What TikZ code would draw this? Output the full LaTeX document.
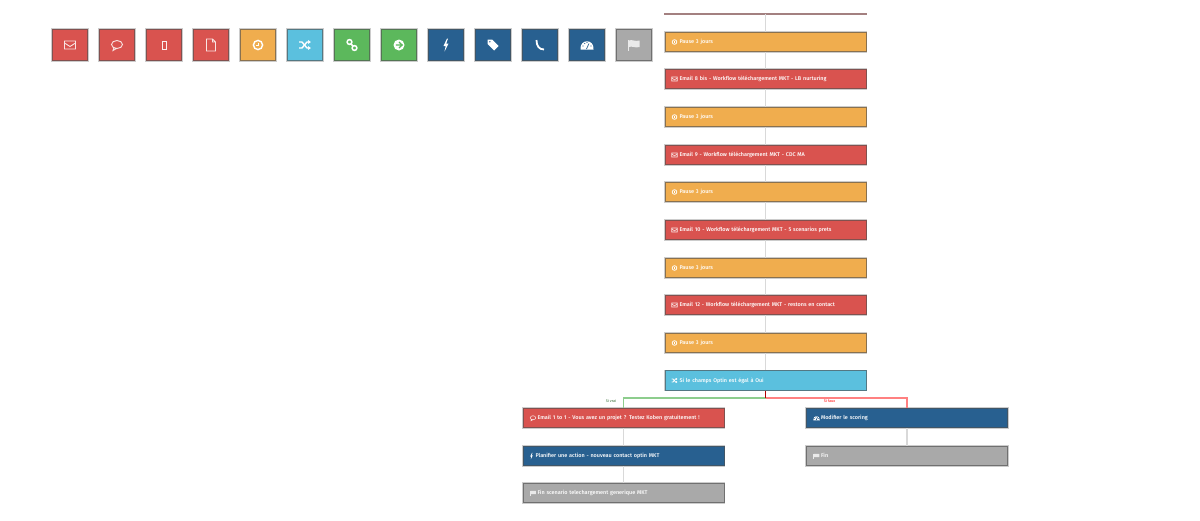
\documentclass[tikz,border=0pt]{standalone}
\usepackage{fontspec}
\setmainfont[BoldFont={Fira Sans Medium}]{Fira Sans}
\usetikzlibrary{arrows.meta}
\definecolor{rouge}{HTML}{D9534F}
\definecolor{orange}{HTML}{F0AD4E}
\definecolor{ciel}{HTML}{5BC0DE}
\definecolor{vert}{HTML}{5CB85C}
\definecolor{marine}{HTML}{286090}
\definecolor{gris}{HTML}{A9A9A9}
\tikzset{
    boite/.style={draw=#1!45!black!80!white,fill=#1,line width=1pt,
        preaction={draw=black!20,line width=2.2pt}},
    tuile/.style={boite=#1,minimum width=35pt,minimum height=31pt,inner sep=0pt},
    etape/.style={boite=#1,minimum width=201pt,minimum height=19.5pt,text width=201pt,
        inner xsep=0pt,inner ysep=0pt,align=left,text=white,text height=4.8pt,text depth=1.5pt,
        font=\bfseries\fontsize{5.45}{6}\selectfont,
        execute at begin node=\hspace*{14.5pt}},
    lien/.style={draw=black!15,line width=1.2pt},
    trait/.style={white,line width=.9pt},
    fort/.style={white,line width=1.4pt},
    bout/.tip={Latex[length=3pt,width=4.5pt]},
    petit/.style={scale=.5,trait/.style={white,line width=.55pt},fort/.style={white,line width=.8pt},
        bout/.tip={Latex[length=1.7pt,width=2.6pt]}},
    pics/mail/.style={code={\draw[trait,white!85!rouge] (-5.5,-4) rectangle (5.5,4) (-5.5,-2) -- (0,1.5) -- (5.5,-2);}},
    pics/bulle/.style={code={\draw[trait,white!85!rouge] (0,-.5) ellipse (5.5 and 4) (-3,2.5) -- (-4,5.5) -- (-.5,3.5);}},
    pics/mobile/.style={code={\draw[trait,white!90!rouge] (-2,-4) rectangle (2,4);}},
    pics/fichier/.style={code={\draw[trait,white!85!rouge] (-4.5,-6) -- (1.5,-6) -- (4.5,-3) -- (4.5,6) -- (-4.5,6) -- cycle (1.5,-6) -- (1.5,-3) -- (4.5,-3);}},
    pics/horloge/.style={code={\draw[fort] (0,0) circle (4.6);\draw[trait] (.5,-2.5) -- (.5,.5) -- (-2,.5);}},
    pics/croise/.style={code={\draw[fort,-bout] (-6,-3) -- (-3,-3) -- (2,3) -- (6,3);
        \draw[fort,-bout] (-6,3) -- (-3,3) -- (2,-3) -- (6,-3);}},
    pics/chaine/.style={code={\draw[trait,line width=1.5pt] (-2.5,-3) circle (2.4) (2.5,3) circle (2.4) (-1,-1.2) -- (1,1.2);}},
    pics/fleche/.style={code={\fill[white] (0,0) circle (5.5);
        \draw[vert,line width=1.2pt] (-3.2,0) -- (2.5,0) (0,-3) -- (3.2,0) -- (0,3);}},
    pics/eclair/.style={code={\fill[white] (1,-6.5) -- (-2.5,1) -- (-.3,1) -- (-1.5,6.5) -- (2.5,-1.5) -- (.3,-1.5) -- (2,-6.5) -- cycle;}},
    pics/etiquette/.style={code={\fill[white,even odd rule] (-5.5,-5.5) -- (-1,-5.5) -- (5.5,1) -- (1,5.5) -- (-5.5,-1) -- cycle (-3.2,-3.2) circle (1);}},
    pics/combine/.style={code={\draw[white,line width=1.8pt] (-3.5,-5) .. controls (-3.5,1) and (-1,4.5) .. (4,4.5);}},
    pics/jauge/.style={code={\fill[white] (-6.5,4.5) .. controls (-7.5,-6.5) and (7.5,-6.5) .. (6.5,4.5) -- cycle;
        \draw[marine,line width=.7pt] (-.5,4) -- (2,-1.5);
        \fill[marine] (-4,1) circle (.6) (4,1) circle (.6) (-2.2,-1.5) circle (.6) (0,-2.5) circle (.6);}},
    pics/drapeau/.style={code={\draw[white!75!gris,line width=.8pt] (-5.5,-5) -- (-5.5,6);
        \fill[white!75!gris] (-5,-4.5) .. controls (-2,-6) and (1,-3) .. (5.5,-4.5) -- (5.5,2) .. controls (1,3.5) and (-2,.5) .. (-5,2) -- cycle;}},
}
\begin{document}
\begin{tikzpicture}[x=1pt,y=-1pt]
    \useasboundingbox (0,0) rectangle (1200,520);
    % palette
    \node[tuile=rouge] (T1) at (70,45) {};
    \node[tuile=rouge] (T2) at (117,45) {};
    \node[tuile=rouge] (T3) at (164,45) {};
    \node[tuile=rouge] (T4) at (211,45) {};
    \node[tuile=orange] (T5) at (258,45) {};
    \node[tuile=ciel] (T6) at (305,45) {};
    \node[tuile=vert] (T7) at (352,45) {};
    \node[tuile=vert] (T8) at (399,45) {};
    \node[tuile=marine] (T9) at (446,45) {};
    \node[tuile=marine] (T10) at (493,45) {};
    \node[tuile=marine] (T11) at (540,45) {};
    \node[tuile=marine] (T12) at (587,45) {};
    \node[tuile=gris] (T13) at (634,45) {};
    \pic at (T1) {mail};
    \pic at (T2) {bulle};
    \pic at (T3) {mobile};
    \pic at (T4) {fichier};
    \pic at (T5) {horloge};
    \pic at (T6) {croise};
    \pic at (T7) {chaine};
    \pic at (T8) {fleche};
    \pic at (T9) {eclair};
    \pic at (T10) {etiquette};
    \pic at (T11) {combine};
    \pic at (T12) {jauge};
    \pic at (T13) {drapeau};
    % colonne principale
    \coordinate (H) at (765.5,14);
    \draw[draw=black!30!red!25!gray!80!white,line width=1.3pt] (664,14) -- (867,14);
    \node[etape=orange] (P1) at (765.5,42) {Pause 3 jours};
    \node[etape=rouge] (E8) at (765.5,79) {Email 8 bis - Workflow téléchargement MKT - LB nurturing};
    \node[etape=orange] (P2) at (765.5,117) {Pause 3 jours};
    \node[etape=rouge] (E9) at (765.5,155) {Email 9 - Workflow téléchargement MKT - CDC MA};
    \node[etape=orange] (P3) at (765.5,192) {Pause 3 jours};
    \node[etape=rouge] (E10) at (765.5,230) {Email 10 - Workflow téléchargement MKT - 5 scenarios prets};
    \node[etape=orange] (P4) at (765.5,268) {Pause 3 jours};
    \node[etape=rouge] (E12) at (765.5,305) {Email 12 - Workflow téléchargement MKT - restons en contact};
    \node[etape=orange] (P5) at (765.5,343) {Pause 3 jours};
    \node[etape=ciel] (S) at (765.5,380.5) {Si le champs Optin est égal à Oui};
    % branches
    \node[etape=rouge] (A1) at (623.5,418) {Email 1 to 1 - Vous avez un projet ? Testez Koben gratuitement !};
    \node[etape=marine] (A2) at (623.5,456) {\hspace*{-2pt}Planifier une action - nouveau contact optin MKT};
    \node[etape=gris] (A3) at (623.5,493) {Fin scenario telechargement generique MKT};
    \node[etape=marine] (B1) at (907,418) {Modifier le scoring};
    \node[etape=gris] (B2) at (907,456) {Fin};
    \pic[petit] at ([xshift=10pt]P1.west) {horloge};
    \pic[petit] at ([xshift=10pt]E8.west) {mail};
    \pic[petit] at ([xshift=10pt]P2.west) {horloge};
    \pic[petit] at ([xshift=10pt]E9.west) {mail};
    \pic[petit] at ([xshift=10pt]P3.west) {horloge};
    \pic[petit] at ([xshift=10pt]E10.west) {mail};
    \pic[petit] at ([xshift=10pt]P4.west) {horloge};
    \pic[petit] at ([xshift=10pt]E12.west) {mail};
    \pic[petit] at ([xshift=10pt]P5.west) {horloge};
    \pic[petit] at ([xshift=10pt]S.west) {croise};
    \pic[petit] at ([xshift=10.5pt]A1.west) {bulle};
    \pic[petit] at ([xshift=9pt]A2.west) {eclair};
    \pic[petit] at ([xshift=10.5pt]A3.west) {drapeau};
    \pic[petit] at ([xshift=10.5pt]B1.west) {jauge};
    \pic[petit] at ([xshift=10.5pt]B2.west) {drapeau};
    % liens
    \draw[lien] (H) -- (P1);
    \draw[lien] (P1) -- (E8);
    \draw[lien] (E8) -- (P2);
    \draw[lien] (P2) -- (E9);
    \draw[lien] (E9) -- (P3);
    \draw[lien] (P3) -- (E10);
    \draw[lien] (E10) -- (P4);
    \draw[lien] (P4) -- (E12);
    \draw[lien] (E12) -- (P5);
    \draw[lien] (P5) -- (S);
    \draw[lien] (A1) -- (A2);
    \draw[lien] (A2) -- (A3);
    \draw[lien] (B1) -- (B2);
    \coordinate (G) at (623.5,398);
    \coordinate (D) at (907,398);
    \coordinate (M) at (765.5,398);
    \draw[vert!70!white,line width=1.2pt] (M) -- (G) -- (A1.north);
    \draw[red!50!white,line width=1.2pt] (M) -- (D) -- (B1.north);
    \draw[red!70!black,line width=1.2pt] (S.south) -- (M);
    \node[text=vert!60!black,font=\fontsize{3.8}{4}\selectfont,inner sep=0pt] (LV) at (611,401.5) {Si vrai};
    \node[text=red,font=\fontsize{3.8}{4}\selectfont,inner sep=0pt] (LF) at (829.5,401.5) {Si faux};
\end{tikzpicture}
\end{document}
